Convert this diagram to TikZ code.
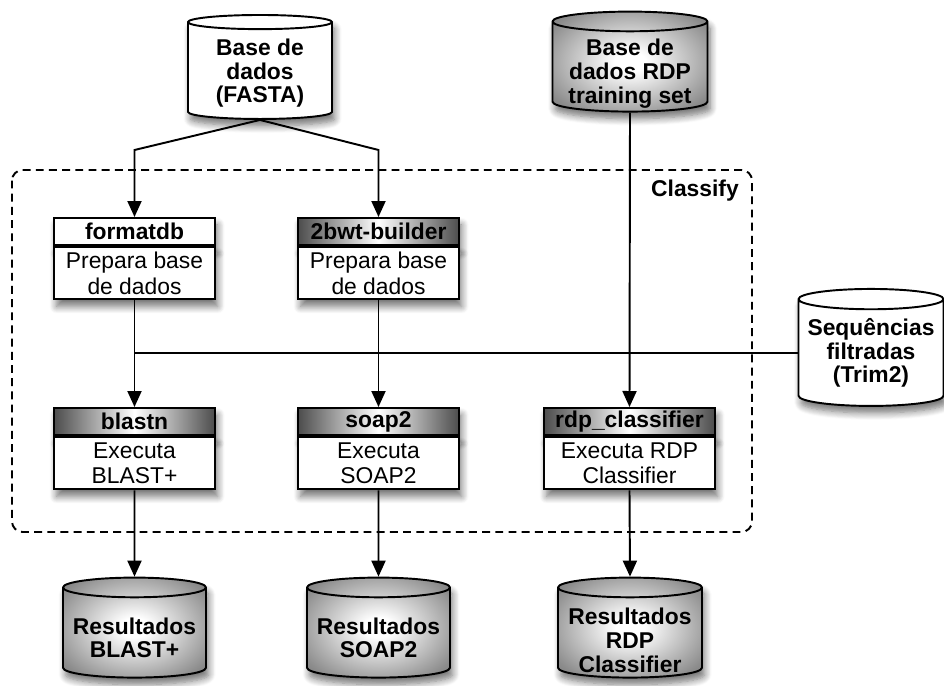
\documentclass[tikz,border=0pt]{standalone}
\usepackage{fontspec}
\setmainfont{Liberation Sans}
\usetikzlibrary{shapes.geometric,arrows.meta,shadows.blur}

% white centre fading to dark grey at the rim
\pgfdeclareradialshading{dbshade}{\pgfpoint{0bp}{0bp}}{color(0bp)=(white); color(5bp)=(white); color(30bp)=(black!45); color(50bp)=(black!72)}

% pushes the text of a cylinder down, away from its lid
\newcommand{\lid}[1]{\rule{0pt}{#1}}

\tikzset{
  soft/.style={blur shadow={shadow xshift=1.5pt, shadow yshift=-4pt, shadow blur radius=4pt, shadow blur steps=8, shadow opacity=55}},
  db/.style={cylinder, shape border rotate=90, aspect=0.16, draw, line width=1.1pt,
    align=center, inner sep=0pt, inner ysep=-12pt, font=\bfseries\fontsize{13}{13.5}\selectfont, soft},
  dbwhite/.style={db, fill=white},
  dbgray/.style={db, shade, shading=dbshade},
  head/.style={draw, line width=1.1pt, minimum width=3.22cm, minimum height=0.55cm,
    inner sep=0pt, fill=white, font=\bfseries\fontsize{13}{14}\selectfont, soft},
  headgray/.style={head, left color=black!70, right color=black!70, middle color=white},
  task/.style={draw, line width=1.1pt, minimum width=3.22cm, minimum height=1.04cm,
    inner sep=0pt, align=center, fill=white, font=\fontsize{13}{14.5}\selectfont, soft},
  flow/.style={line width=1.1pt, -{Triangle[length=0.32cm,width=0.28cm]}},
  link/.style={line width=1.1pt},
}

\begin{document}
\begin{tikzpicture}[x=0.02cm, y=-0.02cm]

  \useasboundingbox (0,0) rectangle (944,686);

  % the Classify block
  \draw[dashed, dash pattern=on 4.5pt off 3pt, line width=1.1pt, rounded corners=6pt] (12,170) rectangle (752,532);
  \node[anchor=north east, font=\bfseries\fontsize{13}{14}\selectfont] (classify) at (745,174) {Classify};

  % inputs
  \node[dbwhite, minimum width=2.88cm, minimum height=2.08cm] (fasta) at (260,71) {\lid{12pt}Base de\\dados\\(FASTA)};
  \node[dbgray, minimum width=3.1cm, minimum height=2cm] (rdpset) at (630,67) {\lid{17pt}Base de\\dados RDP\\training set};
  \node[dbwhite, minimum width=2.9cm, minimum height=2.34cm] (trim) at (871,353) {Sequências\\filtradas\\(Trim2)};

  % database preparation
  \node[head, anchor=north] (fmt) at (134.5,217) {formatdb};
  \node[task, anchor=north] (fmtjob) at (fmt.south) {Prepara base\\de dados};
  \node[headgray, anchor=north] (bwt) at (378.5,217) {2bwt-builder};
  \node[task, anchor=north] (bwtjob) at (bwt.south) {Prepara base\\de dados};

  % classifiers
  \node[headgray, anchor=north] (blastn) at (134.5,407) {blastn};
  \node[task, anchor=north] (blastjob) at (blastn.south) {Executa\\BLAST+};
  \node[headgray, anchor=north] (soap) at (378.5,407) {soap2};
  \node[task, anchor=north] (soapjob) at (soap.south) {Executa\\SOAP2};
  \node[headgray, anchor=north, minimum width=3.42cm] (rdpc) at (629.5,407) {rdp\_classifier};
  \node[task, anchor=north, minimum width=3.42cm] (rdpcjob) at (rdpc.south) {Executa RDP\\Classifier};

  % outputs
  \node[dbgray, minimum width=2.86cm, minimum height=2cm] (resblast) at (134.5,633) {\lid{15pt}Resultados\\BLAST+};
  \node[dbgray, minimum width=2.86cm, minimum height=2cm] (ressoap) at (378.5,633) {\lid{15pt}Resultados\\SOAP2};
  \node[dbgray, minimum width=2.88cm, minimum height=2cm] (resrdp) at (630,633) {\lid{18pt}Resultados\\RDP\\Classifier};

  \coordinate (lbend) at (134.5,150);
  \coordinate (rbend) at (378.5,150);

  \draw[flow] (fasta.south) -- (lbend) -- (fmt.north);
  \draw[flow] (fasta.south) -- (rbend) -- (bwt.north);
  \draw[flow] (rdpset.south) -- (rdpc.north);
  \draw[flow] (fmtjob.south) -- (blastn.north);
  \draw[flow] (bwtjob.south) -- (soap.north);
  \draw[link] (trim.west) -- (trim.west -| fmtjob.south);

  \draw[flow] (blastjob.south) -- (resblast.north);
  \draw[flow] (soapjob.south) -- (ressoap.north);
  \draw[flow] (rdpcjob.south) -- (resrdp.north);

\end{tikzpicture}
\end{document}
